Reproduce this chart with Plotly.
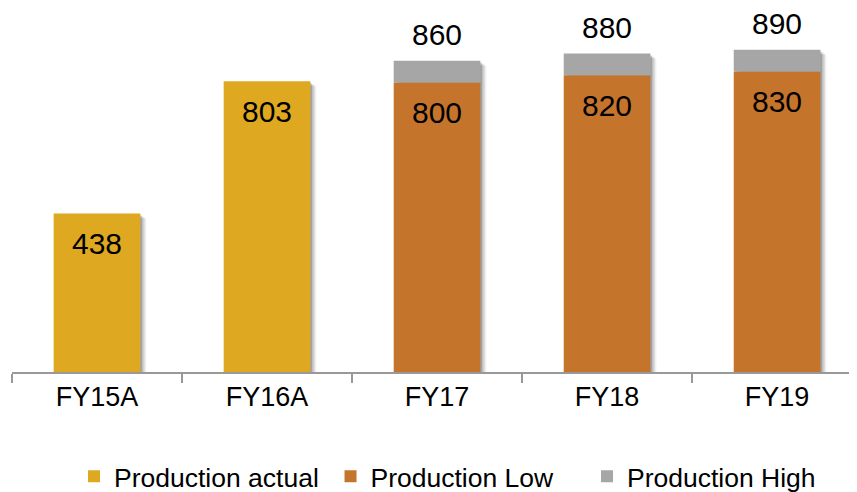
import plotly.graph_objects as go

categories = ["FY15A", "FY16A", "FY17", "FY18", "FY19"]
production_actual = [438, 803, None, None, None]
production_low = [None, None, 800, 820, 830]
production_high_total = [None, None, 860, 880, 890]

production_high = [None if (t is None or l is None) else t - l
                   for t, l in zip(production_high_total, production_low)]
bar_tops = [t if t is not None else a for a, t in zip(production_actual, production_high_total)]

FONT = "Liberation Sans, Arial, sans-serif"
BW = 0.51
PX = 1 / 170.0          # one pixel in category units
UNIT_PX = 0.362         # pixels per data unit

fig = go.Figure()
# soft drop shadow on the right of each bar
for dx, dy, alpha in [(1.5, 2, 0.16), (3, 3, 0.12), (4.5, 4, 0.09), (6, 5, 0.06)]:
    fig.add_trace(go.Bar(x=categories, y=[v - dy / UNIT_PX for v in bar_tops],
                         width=BW, offset=-BW / 2 + dx * PX,
                         marker=dict(color=f"rgba(0,0,0,{alpha})", line_width=0),
                         showlegend=False, hoverinfo="skip"))

fig.add_trace(go.Bar(name="Production actual", x=categories, y=production_actual,
                     marker=dict(color="#DEA821", line_width=0), width=BW, offset=-BW / 2))
fig.add_trace(go.Bar(name="Production Low", x=categories, y=production_low,
                     marker=dict(color="#C5742C", line_width=0), width=BW, offset=-BW / 2))
fig.add_trace(go.Bar(name="Production High", x=categories, y=production_high,
                     base=production_low,
                     marker=dict(color="#A6A6A6", line_width=0), width=BW, offset=-BW / 2))

annotations = []
for c, a, l, t in zip(categories, production_actual, production_low, production_high_total):
    inner = a if a is not None else l
    annotations.append(dict(x=c, y=inner, text=str(inner), showarrow=False,
                            yanchor="middle", yshift=-30,
                            font=dict(family=FONT, size=30, color="#000")))
    if t is not None:
        annotations.append(dict(x=c, y=t, text=str(t), showarrow=False,
                                yanchor="middle", yshift=26,
                                font=dict(family=FONT, size=30, color="#000")))

fig.update_layout(
    barmode="overlay",
    width=849, height=484,
    margin=dict(l=4, r=0, t=2, b=120, autoexpand=False),
    plot_bgcolor="white", paper_bgcolor="white",
    font=dict(family=FONT, color="#000"),
    annotations=annotations,
    legend=dict(orientation="h", x=0.0734, xanchor="left", y=-0.289, yanchor="middle",
                font=dict(family=FONT, size=26.5), traceorder="normal",
                itemwidth=30, entrywidth=211.5),
    showlegend=True,
)
fig.update_xaxes(range=[-0.5, 4.47], tickson="boundaries", ticks="outside", ticklen=9,
                 tickcolor="#999", tickwidth=2, linecolor="#999", linewidth=2, showline=True,
                 tickfont=dict(family=FONT, size=27), showgrid=False, automargin=False)
fig.update_yaxes(range=[0, 1000], visible=False, showgrid=False, automargin=False)

fig.write_html("out.html")
